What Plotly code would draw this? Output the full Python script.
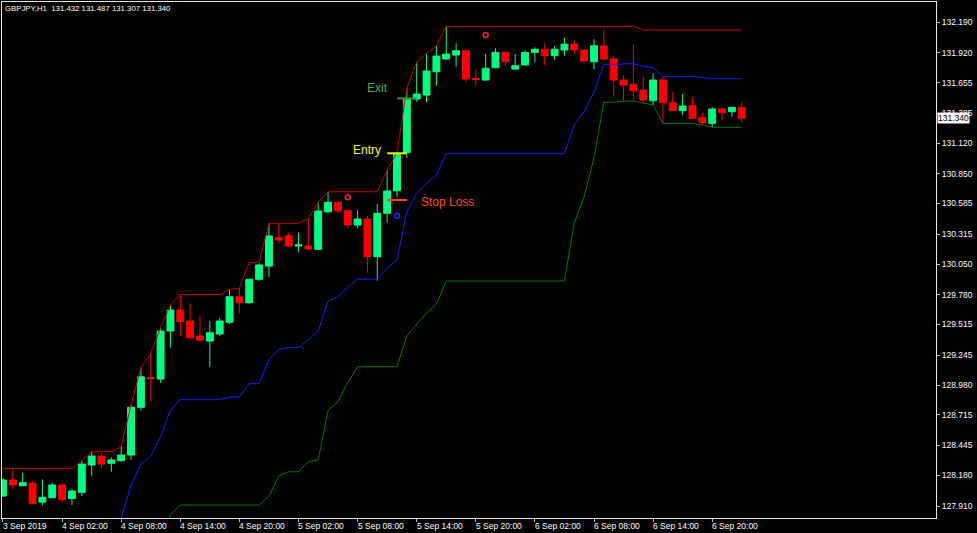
import plotly.graph_objects as go

# ---------------- data ----------------
opens = [127.998, 128.140, 128.089, 128.111, 127.945, 127.983, 128.096, 127.976, 128.031, 128.273,
         128.352, 128.288, 128.311, 128.361, 128.783, 129.048, 129.033, 129.457, 129.643, 129.546,
         129.413, 129.369, 129.431, 129.534, 129.761, 129.708, 129.915, 130.032, 130.283, 130.300,
         130.209, 130.209, 130.180, 130.512, 130.596, 130.521, 130.395, 130.448, 130.115, 130.498,
         130.698, 131.034, 131.509, 131.544, 131.750, 131.863, 131.898, 131.936, 131.692, 131.677,
         131.786, 131.922, 131.774, 131.810, 131.920, 131.949, 131.892, 131.942, 131.995, 131.942,
         131.839, 131.978, 131.863, 131.677, 131.639, 131.589, 131.494, 131.677, 131.476, 131.406,
         131.450, 131.344, 131.294, 131.421, 131.397, 131.432]
highs = [128.158, 128.237, 128.204, 128.131, 128.146, 128.113, 128.113, 128.065, 128.308, 128.390,
         128.376, 128.341, 128.434, 128.803, 129.133, 129.260, 129.487, 129.687, 129.780, 129.702,
         129.599, 129.546, 129.575, 129.826, 129.835, 129.920, 130.058, 130.410, 130.404, 130.327,
         130.327, 130.454, 130.596, 130.689, 130.601, 130.528, 130.528, 130.477, 130.581, 130.881,
         131.034, 131.604, 131.839, 131.913, 131.978, 132.152, 132.002, 131.949, 131.766, 131.907,
         131.957, 131.927, 131.907, 131.938, 131.966, 132.004, 131.978, 132.051, 132.022, 131.949,
         132.037, 132.119, 131.889, 131.721, 131.995, 131.706, 131.736, 131.706, 131.574, 131.553,
         131.521, 131.388, 131.436, 131.427, 131.438, 131.487]
lows = [127.990, 128.060, 128.087, 127.928, 127.914, 127.981, 127.948, 127.919, 127.998, 128.178,
        128.243, 128.213, 128.303, 128.317, 128.753, 128.832, 129.000, 129.313, 129.416, 129.384,
        129.358, 129.142, 129.413, 129.519, 129.614, 129.696, 129.900, 129.935, 130.233, 130.198,
        130.153, 130.178, 130.174, 130.498, 130.498, 130.366, 130.366, 129.973, 129.902, 130.415,
        130.645, 130.987, 131.485, 131.480, 131.627, 131.854, 131.795, 131.662, 131.627, 131.668,
        131.781, 131.804, 131.770, 131.804, 131.834, 131.804, 131.854, 131.892, 131.907, 131.839,
        131.774, 131.854, 131.536, 131.491, 131.500, 131.476, 131.456, 131.294, 131.403, 131.368,
        131.332, 131.279, 131.259, 131.317, 131.353, 131.307]
closes = [128.140, 128.096, 128.116, 127.934, 127.987, 128.096, 127.967, 128.043, 128.281, 128.352,
          128.281, 128.317, 128.361, 128.783, 129.053, 129.036, 129.457, 129.643, 129.540, 129.398,
          129.378, 129.442, 129.546, 129.761, 129.708, 129.915, 130.041, 130.298, 130.262, 130.209,
          130.218, 130.183, 130.519, 130.596, 130.521, 130.395, 130.448, 130.115, 130.498, 130.696,
          131.029, 131.509, 131.553, 131.757, 131.889, 131.907, 131.936, 131.686, 131.683, 131.781,
          131.922, 131.839, 131.804, 131.920, 131.949, 131.892, 131.949, 131.995, 131.942, 131.845,
          131.980, 131.863, 131.677, 131.633, 131.582, 131.500, 131.677, 131.476, 131.406, 131.447,
          131.338, 131.300, 131.421, 131.388, 131.436, 131.340]

upper_band = ([128.243] * 8
              + [128.308, 128.390, 128.390, 128.390, 128.434, 128.803, 129.133, 129.260, 129.487, 129.687]
              + [129.780] * 5 + [129.826, 129.835, 130.065, 130.065] + [130.410] * 4
              + [130.454, 130.596] + [130.689] * 6
              + [130.881, 131.034, 131.604, 131.839, 131.913, 131.978]
              + [132.152] * 20 + [132.119] * 11)
middle_band = ([127.661] * 8
               + [127.694, 127.735, 127.735, 127.735, 127.801, 128.096, 128.283, 128.346, 128.522, 128.759]
               + [128.850] * 5
               + [128.873, 128.877, 128.992, 128.992, 129.204, 129.294, 129.312, 129.312, 129.379,
                  129.457, 129.721, 129.761, 129.845]
               + [129.916] * 3 + [130.012, 130.088, 130.509, 130.679, 130.764, 130.837]
               + [131.026] * 13
               + [131.284, 131.399, 131.570, 131.816, 131.816, 131.822, 131.822, 131.798, 131.788]
               + [131.707] * 4 + [131.699] + [131.689] * 4)
lower_band = ([127.079] * 12 + [127.167, 127.388, 127.432, 127.432, 127.556, 127.830]
              + [127.919] * 9
              + [127.998, 128.178, 128.213, 128.213, 128.303, 128.317, 128.753, 128.832, 129.000]
              + [129.142] * 5 + [129.413, 129.519, 129.614, 129.696] + [129.900] * 13
              + [130.415, 130.645, 130.987, 131.480, 131.480, 131.491, 131.491, 131.476, 131.456]
              + [131.294] * 4 + [131.279] + [131.259] * 4)

bars = list(range(len(opens)))

x_tick_bars = [0, 6, 12, 18, 24, 30, 36, 42, 48, 54, 60, 66, 72]
x_tick_text = ["3 Sep 2019", "4 Sep 02:00", "4 Sep 08:00", "4 Sep 14:00", "4 Sep 20:00",
               "5 Sep 02:00", "5 Sep 08:00", "5 Sep 14:00", "5 Sep 20:00", "6 Sep 02:00",
               "6 Sep 08:00", "6 Sep 14:00", "6 Sep 20:00"]
y_tick_vals = [132.190, 131.920, 131.655, 131.385, 131.120, 130.850, 130.585, 130.315, 130.050,
               129.780, 129.515, 129.245, 128.980, 128.715, 128.445, 128.180, 127.910]

signal_red_bars = [35, 49]
signal_red_prices = [130.640, 132.075]
signal_blue_bars = [40]
signal_blue_prices = [130.477]

entry_bars = [39, 41]
entry_price = 131.029
stop_bars = [39, 41]
stop_price = 130.616
exit_bars = [40, 42]
exit_price = 131.515

symbol_text = "GBPJPY,H1\u00a0\u00a0131.432 131.487 131.307 131.340"
last_price = 131.340

FONT = "Liberation Sans, Arial, sans-serif"

fig = go.Figure()

fig.add_trace(go.Scatter(x=bars, y=lower_band, mode="lines",
                         line=dict(color="#007a00", width=1), hoverinfo="skip"))
fig.add_trace(go.Scatter(x=bars, y=middle_band, mode="lines",
                         line=dict(color="#1a1aff", width=1), hoverinfo="skip"))
fig.add_trace(go.Scatter(x=bars, y=upper_band, mode="lines",
                         line=dict(color="#c80000", width=1), hoverinfo="skip"))

fig.add_trace(go.Candlestick(
    x=bars, open=opens, high=highs, low=lows, close=closes,
    increasing=dict(line=dict(color="#00FF80", width=1), fillcolor="#00FF80"),
    decreasing=dict(line=dict(color="#FF0000", width=1), fillcolor="#FF0000"),
    whiskerwidth=0, hoverinfo="skip"))

fig.add_trace(go.Scatter(x=signal_red_bars, y=signal_red_prices, mode="markers",
                         marker=dict(symbol="circle-open", size=5, color="#ff2020",
                                     line=dict(width=1.5, color="#ff2020")), hoverinfo="skip"))
fig.add_trace(go.Scatter(x=signal_blue_bars, y=signal_blue_prices, mode="markers",
                         marker=dict(symbol="circle-open", size=5, color="#2020ff",
                                     line=dict(width=1.5, color="#2020ff")), hoverinfo="skip"))

fig.add_trace(go.Scatter(x=entry_bars, y=[entry_price] * 2, mode="lines",
                         line=dict(color="#f0f000", width=2), hoverinfo="skip"))
fig.add_trace(go.Scatter(x=stop_bars, y=[stop_price] * 2, mode="lines",
                         line=dict(color="#ff4a10", width=2), hoverinfo="skip"))
fig.add_trace(go.Scatter(x=exit_bars, y=[exit_price] * 2, mode="lines",
                         line=dict(color="#3a8a3a", width=2), hoverinfo="skip"))

annotations = [
    dict(x=38, y=131.606, xref="x", yref="y", text="Exit", showarrow=False,
         font=dict(family=FONT, size=12, color="#45b045")),
    dict(x=37, y=131.054, xref="x", yref="y", text="Entry", showarrow=False,
         font=dict(family=FONT, size=12, color="#ffff00")),
    dict(x=42.25, y=130.598, xref="x", yref="y", text="Stop Loss", showarrow=False,
         xanchor="left", font=dict(family=FONT, size=12, color="#ff4a10")),
    dict(x=0, y=1, xref="paper", yref="paper", text=symbol_text, showarrow=False,
         xanchor="left", yanchor="top", xshift=1, yshift=0,
         font=dict(family=FONT, size=7.8, color="white")),
    dict(x=1, y=last_price, xref="paper", yref="y", text=f"{last_price:.3f}", showarrow=False,
         xanchor="left", xshift=1, bgcolor="white", borderpad=0,
         font=dict(family=FONT, size=8.5, color="black")),
]
for b, t in zip(x_tick_bars, x_tick_text):
    annotations.append(dict(x=b, y=0, xref="x", yref="paper", text=t, showarrow=False,
                            xanchor="left", yanchor="top", xshift=-2, yshift=-1,
                            font=dict(family=FONT, size=8.5, color="white")))

fig.update_layout(
    width=977, height=533,
    margin=dict(l=2, r=41, t=2, b=15),
    paper_bgcolor="black", plot_bgcolor="black",
    showlegend=False,
    boxmode="overlay", boxgap=0.3, boxgroupgap=0,
    annotations=annotations,
    xaxis=dict(range=[-0.1, 94.72], showgrid=False, zeroline=False,
               showline=True, mirror=True, linecolor="#e8e8e8", linewidth=1,
               ticks="outside", ticklen=3, tickcolor="#c0c0c0", tickwidth=1,
               tickvals=x_tick_bars, showticklabels=False,
               rangeslider=dict(visible=False)),
    yaxis=dict(range=[127.804, 132.367], side="right", showgrid=False, zeroline=False,
               showline=True, mirror=True, linecolor="#e8e8e8", linewidth=1,
               ticks="outside", ticklen=3, tickcolor="#c0c0c0", tickwidth=1,
               tickvals=y_tick_vals, ticktext=[f"{v:.3f}" for v in y_tick_vals],
               tickfont=dict(family=FONT, size=8.5, color="white")),
)

fig.write_html("out.html",
               config={"displayModeBar": False},
               post_script="document.body.style.margin='0';document.body.style.background='black';")
